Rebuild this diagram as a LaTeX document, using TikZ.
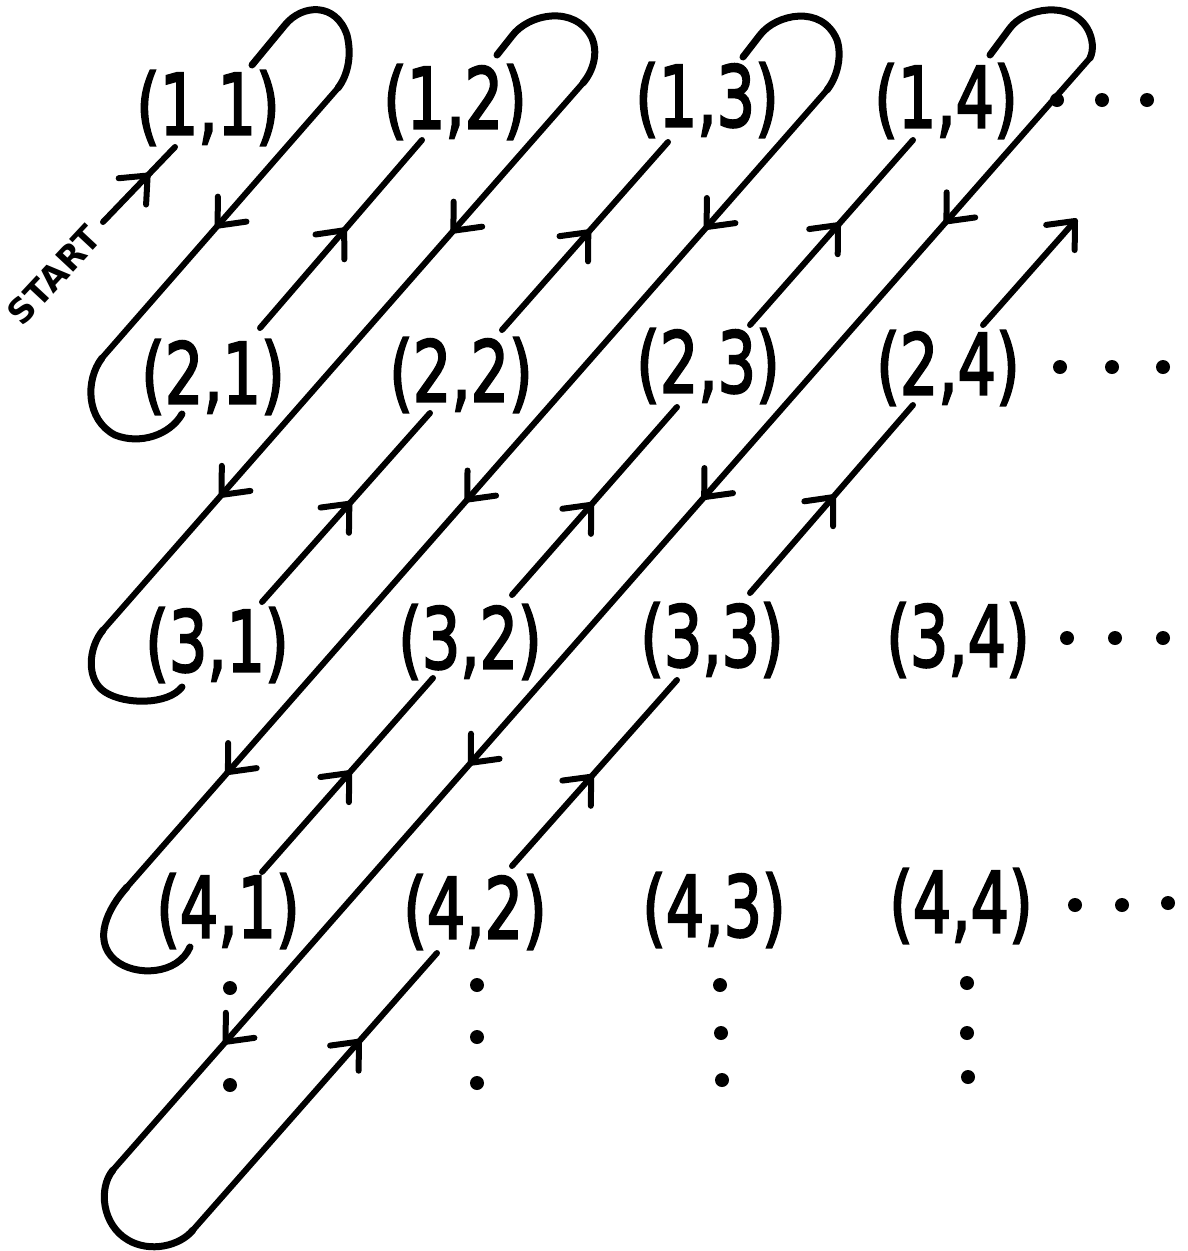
\documentclass[tikz,border=0pt]{standalone}
\usepackage{fontspec}
\usepackage{graphicx}
\setmainfont{DejaVu Sans}
\newfontfamily\lblfont[FakeBold=3]{DejaVu Sans}
\usetikzlibrary{arrows.meta,decorations.markings}
\newcommand{\tipbarb}{\draw[line width=6pt,line cap=round,line join=round] (-22,-19) -- (0,0) -- (-22,19);}
\tikzset{
  pen/.style={line width=6pt, line cap=round, line join=round},
  looppen/.style={line width=7pt, line cap=round, line join=round},
  lbl/.style={inner sep=0pt, font=\lblfont\fontsize{84}{90}\selectfont},
  dotf/.style={fill=black},
  arrA/.style={postaction={decorate},decoration={markings,mark=at position #1 with {\tipbarb}}},
  arrB/.style 2 args={postaction={decorate},decoration={markings,mark=at position #1 with {\tipbarb},mark=at position #2 with {\tipbarb}}},
  arrC/.style n args={3}{postaction={decorate},decoration={markings,mark=at position #1 with {\tipbarb},mark=at position #2 with {\tipbarb},mark=at position #3 with {\tipbarb}}},
  arrD/.style n args={4}{postaction={decorate},decoration={markings,mark=at position #1 with {\tipbarb},mark=at position #2 with {\tipbarb},mark=at position #3 with {\tipbarb},mark=at position #4 with {\tipbarb}}},
}
\begin{document}
\begin{tikzpicture}[x=1pt,y=-1pt]
\fill[white] (0,0) rectangle (1187,1251);
\useasboundingbox (0,0) rectangle (1187,1251);

% labels
\node[lbl] (n11) at (208,108) {\scalebox{0.72}[1]{(1,1)}};
\node[lbl] (n12) at (455,102) {\scalebox{0.72}[1]{(1,2)}};
\node[lbl] (n13) at (707,100) {\scalebox{0.72}[1]{(1,3)}};
\node[lbl] (n14) at (946,101) {\scalebox{0.72}[1]{(1,4)}};
\node[lbl] (n21) at (213,377) {\scalebox{0.72}[1]{(2,1)}};
\node[lbl] (n22) at (461,375) {\scalebox{0.72}[1]{(2,2)}};
\node[lbl] (n23) at (708,366) {\scalebox{0.72}[1]{(2,3)}};
\node[lbl] (n24) at (948,368) {\scalebox{0.72}[1]{(2,4)}};
\node[lbl] (n31) at (217,645) {\scalebox{0.72}[1]{(3,1)}};
\node[lbl] (n32) at (470,642) {\scalebox{0.72}[1]{(3,2)}};
\node[lbl] (n33) at (712,640) {\scalebox{0.72}[1]{(3,3)}};
\node[lbl] (n34) at (958,640) {\scalebox{0.72}[1]{(3,4)}};
\node[lbl] (n41) at (228,911) {\scalebox{0.72}[1]{(4,1)}};
\node[lbl] (n42) at (475,912) {\scalebox{0.72}[1]{(4,2)}};
\node[lbl] (n43) at (714,910) {\scalebox{0.72}[1]{(4,3)}};
\node[lbl] (n44) at (961,906) {\scalebox{0.72}[1]{(4,4)}};

\node[font=\fontsize{34}{35}\selectfont\bfseries, rotate=47, inner sep=0pt] (start) at (54,275) {START};

% connector end points
\coordinate (s0) at (103,222);  \coordinate (s1) at (175,147);
\coordinate (u1s) at (260,328); \coordinate (u1e) at (422,140);
\coordinate (u2as) at (262,602); \coordinate (u2ae) at (430,413);
\coordinate (u2bs) at (502,330); \coordinate (u2be) at (668,142);
\coordinate (u3as) at (262,872); \coordinate (u3ae) at (433,678);
\coordinate (u3bs) at (512,595); \coordinate (u3be) at (677,407);
\coordinate (u3cs) at (750,325); \coordinate (u3ce) at (913,140);
\coordinate (u4ae) at (437,953);
\coordinate (u4bs) at (512,866); \coordinate (u4be) at (677,680);
\coordinate (u4cs) at (750,593); \coordinate (u4ce) at (913,405);
\coordinate (u4ds) at (983,325); \coordinate (u4de) at (1075,221);

\coordinate (l1s) at (252,65);  \coordinate (l1a) at (338,88);  \coordinate (l1b) at (102,358); \coordinate (l1e) at (182,414);
\coordinate (l2s) at (497,55);  \coordinate (l2a) at (583,83);  \coordinate (l2b) at (103,630); \coordinate (l2e) at (182,687);
\coordinate (l3s) at (743,57);  \coordinate (l3a) at (827,90);  \coordinate (l3b) at (127,887); \coordinate (l3e) at (190,947);
\coordinate (l4s) at (990,55);  \coordinate (l4a) at (1090,58); \coordinate (l4b) at (113,1170); \coordinate (l4e) at (193,1230);

% START arrow
\draw[pen, arrA=0.62] (s0) -- (s1);

% up-right diagonals
\draw[pen, arrA=0.52] (u1s) -- (u1e);
\draw[pen, arrA=0.52] (u2as) -- (u2ae);
\draw[pen, arrA=0.52] (u2bs) -- (u2be);
\draw[pen, arrA=0.51] (u3as) -- (u3ae);
\draw[pen, arrA=0.48] (u3bs) -- (u3be);
\draw[pen, arrA=0.54] (u3cs) -- (u3ce);
\draw[pen, arrA=0.68] (l4e) -- (u4ae);
\draw[pen, arrA=0.48] (u4bs) -- (u4be);
\draw[pen, arrA=0.51] (u4cs) -- (u4ce);
\draw[pen, arrA=1] (u4ds) -- (u4de);

% return loop 1
\draw[looppen] (l1s) -- (285,25) .. controls (302,4) and (336,2) .. (347,35) .. controls (352,55) and (348,75) .. (l1a);
\draw[pen, arrA=0.51] (l1a) -- (l1b);
\draw[looppen] (l1b) .. controls (85,380) and (86,420) .. (115,435) .. controls (140,445) and (170,435) .. (l1e);

% return loop 2
\draw[looppen] (l2s) -- (512,36) .. controls (528,14) and (575,4) .. (592,38) .. controls (598,52) and (594,70) .. (l2a);
\draw[pen, arrB={0.27}{0.753}] (l2a) -- (l2b);
\draw[looppen] (l2b) .. controls (88,648) and (86,680) .. (105,692) .. controls (125,705) and (168,705) .. (l2e);

% return loop 3
\draw[looppen] (l3s) -- (760,35) .. controls (776,14) and (822,4) .. (837,40) .. controls (842,55) and (838,76) .. (l3a);
\draw[pen, arrC={0.172}{0.514}{0.856}] (l3a) -- (l3b);
\draw[looppen] (l3b) .. controls (108,908) and (92,940) .. (115,960) .. controls (135,977) and (178,975) .. (l3e);

% return loop 4
\draw[looppen] (l4s) -- (1010,28) .. controls (1025,8) and (1070,0) .. (1087,28) .. controls (1093,38) and (1094,50) .. (l4a);
\draw[pen, arrD={0.147}{0.395}{0.634}{0.885}] (l4a) -- (l4b);
\draw[looppen] (l4b) .. controls (98,1188) and (102,1225) .. (128,1240) .. controls (150,1253) and (180,1246) .. (l4e);

% horizontal ellipses
\foreach \x/\y in {1057/100,1102/100,1147/100, 1060/367,1112/367,1163/367, 1067/638,1115/638,1163/638, 1075/905,1122/905,1168/903}
  \fill[dotf] (\x,\y) circle (7);
% vertical ellipses
\foreach \x/\y in {230/988,230/1085, 477/985,477/1037,477/1083, 720/985,721/1033,722/1080, 967/983,967/1033,968/1077}
  \fill[dotf] (\x,\y) circle (7);
\end{tikzpicture}
\end{document}
